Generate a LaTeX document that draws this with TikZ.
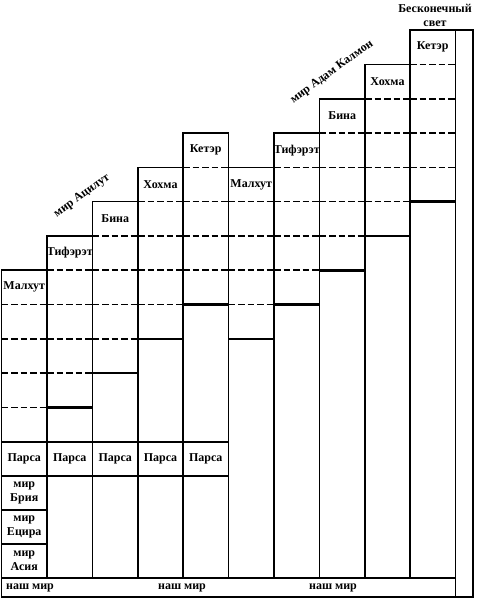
\documentclass[tikz,border=0pt]{standalone}
\usepackage{fontspec}
\setmainfont{Liberation Serif}
\begin{document}
\begin{tikzpicture}[x=1pt,y=-1pt,
  frame/.style={line width=1.6pt},
  sep/.style={line width=1.6pt, dash pattern=on 6.5pt off 3pt},
  floor/.style={line width=2.6pt},
  lbl/.style={font=\fontsize{12}{14}\selectfont\bfseries, inner sep=0pt, align=center},
]
\useasboundingbox (0,0) rectangle (477,600);
% columns of the stair
\foreach \i/\xl/\xr/\t/\name in {0/1.5/47/5/Малхут, 1/47/92.5/6/Тифэрэт, 2/92.5/138/7/Бина, 3/138/183/8/Хохма, 4/183/228.5/9/Кетэр, 5/228.5/274/8/Малхут, 6/274/319.5/9/Тифэрэт, 7/319.5/365/10/Бина, 8/365/410/11/Хохма, 9/410/455.5/12/Кетэр}{
  \pgfmathsetmacro\yt{441.7-34.3*\t}
  \draw[frame] (\xl,\yt) rectangle (\xr,578);
  \foreach \d in {1,...,4}{
    \pgfmathsetmacro\yd{441.7-34.3*(\t-\d)}
    \draw[sep] (\xl,\yd) -- (\xr,\yd);
  }
  \ifnum\i>0
    \pgfmathsetmacro\ys{441.7-34.3*(\t-5)}
    \draw[floor] (\xl,\ys) -- (\xr,\ys);
  \fi
  \node[lbl] (lab\i) at ({(\xl+\xr)/2},{\yt+17.15}) {\name};
}
% Parsa row
\foreach \i/\xl/\xr in {0/1.5/47, 1/47/92.5, 2/92.5/138, 3/138/183, 4/183/228.5}{
  \draw[frame] (\xl,441.7) rectangle (\xr,476);
  \node[lbl] (parsa\i) at ({(\xl+\xr)/2},458.8) {Парса};
}
% lower worlds
\draw[frame] (1.5,476) rectangle (47,510);
\draw[frame] (1.5,510) rectangle (47,544);
\draw[frame] (1.5,544) rectangle (47,578);
\node[lbl] (bria) at (24.25,493) {мир\\Брия};
\node[lbl] (etzira) at (24.25,527) {мир\\Ецира};
\node[lbl] (asia) at (24.25,561) {мир\\Асия};
% our world and infinite light strip
\draw[frame] (455.5,30.1) rectangle (473,597);
\draw[frame] (1.5,578) rectangle (455.5,597);
\node[lbl] (our1) at (30,587.5) {наш мир};
\node[lbl] (our2) at (182,587.5) {наш мир};
\node[lbl] (our3) at (333,587.5) {наш мир};
\node[lbl] (inf) at (435,15.5) {Бесконечный\\свет};
% diagonal titles
\node[lbl, rotate=36] (atzilut) at (82,196) {мир Ацилут};
\node[lbl, rotate=36] (akadmon) at (332,72) {мир Адам Калмон};
\end{tikzpicture}
\end{document}
